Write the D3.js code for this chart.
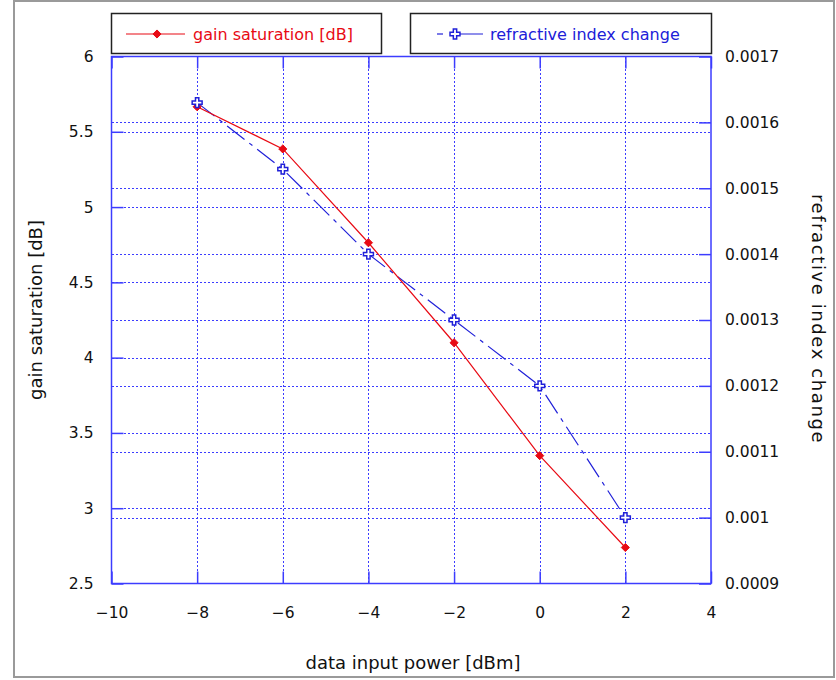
<!DOCTYPE html>
<html>
<head>
<meta charset="utf-8">
<script src="https://cdn.jsdelivr.net/npm/d3@7"></script>
<style>
  html, body { margin: 0; padding: 0; background: #fff; }
  svg { display: block; }
  text { font-family: "DejaVu Sans", "Liberation Sans", sans-serif; }
</style>
</head>
<body>
<svg id="chart" width="836" height="680"></svg>
<script>
// Data input power [dBm]
const inputPower = [-8, -6, -4, -2, 0, 2];
// Gain saturation [dB] (left axis)
const gainSaturation = [5.666, 5.386, 4.763, 4.099, 3.349, 2.739];
// Refractive index change (right axis)
const indexChange = [0.001630, 0.001529, 0.001400, 0.001300, 0.001200, 0.001000];

const xTicks = [-10, -8, -6, -4, -2, 0, 2, 4];
const leftTicks = [2.5, 3, 3.5, 4, 4.5, 5, 5.5, 6];
const rightTicks = [0.0009, 0.001, 0.0011, 0.0012, 0.0013, 0.0014, 0.0015, 0.0016, 0.0017];

const svg = d3.select("#chart");
const frameBlue = "#3c3cff";
const red = "#e80a14";
const blue = "#2020d8";
const tickFont = "'Liberation Sans', Arial, sans-serif";

const plot = { left: 111.5, right: 711, top: 56.5, bottom: 583.5 };

const x = d3.scaleLinear().domain([-10, 4]).range([plot.left, plot.right]);
const yL = d3.scaleLinear().domain([2.5, 6]).range([plot.bottom, plot.top]);
const yR = d3.scaleLinear().domain([0.0009, 0.0017]).range([plot.bottom, plot.top]);

// Outer frame of the figure
svg.append("rect")
  .attr("x", 14).attr("y", 1).attr("width", 820).attr("height", 676)
  .attr("fill", "none").attr("stroke", "#9a9a9a").attr("stroke-width", 2);

// Dotted grid lines
const grid = svg.append("g").attr("stroke", frameBlue).attr("stroke-width", 1)
  .attr("stroke-dasharray", "2,2").attr("shape-rendering", "crispEdges");
xTicks.slice(1, -1).forEach(t => {
  grid.append("line").attr("x1", Math.round(x(t)) + 0.5).attr("x2", Math.round(x(t)) + 0.5)
    .attr("y1", plot.top).attr("y2", plot.bottom);
});
leftTicks.slice(1, -1).forEach(t => {
  grid.append("line").attr("x1", plot.left).attr("x2", plot.right)
    .attr("y1", Math.round(yL(t)) + 0.5).attr("y2", Math.round(yL(t)) + 0.5);
});
rightTicks.slice(1, -1).forEach(t => {
  grid.append("line").attr("x1", plot.left).attr("x2", plot.right)
    .attr("y1", Math.round(yR(t)) + 0.5).attr("y2", Math.round(yR(t)) + 0.5);
});

// Axes with inward ticks
const fmtR = d => d3.format(".4~f")(d);
const axisStyle = g => {
  g.select(".domain").remove();
  g.selectAll(".tick line").attr("stroke", frameBlue).attr("stroke-width", 1.5);
  g.selectAll(".tick text").attr("fill", "#111").attr("font-size", 15.5)
    .attr("font-family", tickFont);
};
svg.append("g").attr("transform", `translate(0,${plot.bottom})`)
  .call(d3.axisBottom(x).tickValues(xTicks).tickSizeInner(-12).tickSizeOuter(0).tickPadding(23)
    .tickFormat(d => d < 0 ? "\u2212" + Math.abs(d) : d))
  .call(axisStyle);
svg.append("g").attr("transform", `translate(0,${plot.top})`)
  .call(d3.axisTop(x).tickValues(xTicks).tickSizeInner(-12).tickSizeOuter(0).tickFormat(""))
  .call(axisStyle);
svg.append("g").attr("transform", `translate(${plot.left},0)`)
  .call(d3.axisLeft(yL).tickValues(leftTicks).tickSizeInner(-12).tickSizeOuter(0).tickPadding(18)
    .tickFormat(d3.format("~g")))
  .call(axisStyle);
svg.append("g").attr("transform", `translate(${plot.right},0)`)
  .call(d3.axisRight(yR).tickValues(rightTicks).tickSizeInner(-12).tickSizeOuter(0).tickPadding(14)
    .tickFormat(fmtR))
  .call(axisStyle);

// Plot frame
svg.append("rect")
  .attr("x", plot.left).attr("y", plot.top)
  .attr("width", plot.right - plot.left).attr("height", plot.bottom - plot.top)
  .attr("fill", "none").attr("stroke", frameBlue).attr("stroke-width", 1.5);

// Axis titles
svg.append("text").attr("x", 413).attr("y", 669).attr("text-anchor", "middle")
  .attr("font-size", 18).attr("fill", "#111").text("data input power [dBm]");
svg.append("text").attr("transform", "translate(42,310) rotate(-90)").attr("text-anchor", "middle")
  .attr("font-size", 18).attr("fill", "#111").text("gain saturation [dB]");
svg.append("text").attr("transform", "translate(812,319) rotate(90)").attr("text-anchor", "middle")
  .attr("font-size", 18).attr("letter-spacing", 1.6).attr("fill", "#111").text("refractive index change");

// Series
const lineL = d3.line().x((d, i) => x(inputPower[i])).y(d => yL(d));
const lineR = d3.line().x((d, i) => x(inputPower[i])).y(d => yR(d));
const dashPattern = "22,6,4,6";

svg.append("path").datum(indexChange).attr("d", lineR)
  .attr("fill", "none").attr("stroke", blue).attr("stroke-width", 1.2)
  .attr("stroke-dasharray", dashPattern);
svg.append("path").datum(gainSaturation).attr("d", lineL)
  .attr("fill", "none").attr("stroke", red).attr("stroke-width", 1.2);

const diamond = d3.symbol().type(d3.symbolDiamond2).size(42);
const cross = d3.symbol().type(d3.symbolCross).size(55);

svg.append("g").selectAll("path").data(gainSaturation).join("path")
  .attr("transform", (d, i) => `translate(${x(inputPower[i])},${yL(d)})`)
  .attr("d", diamond).attr("fill", red).attr("stroke", red).attr("stroke-width", 1);
svg.append("g").selectAll("path").data(indexChange).join("path")
  .attr("transform", (d, i) => `translate(${x(inputPower[i])},${yR(d)})`)
  .attr("d", cross).attr("fill", "#fff").attr("stroke", blue).attr("stroke-width", 1.5);

// Legend
const legend = svg.append("g");
legend.append("rect").attr("x", 111.5).attr("y", 13.5).attr("width", 270).attr("height", 40)
  .attr("fill", "#fff").attr("stroke", "#222").attr("stroke-width", 1.5);
legend.append("line").attr("x1", 126).attr("x2", 185).attr("y1", 34).attr("y2", 34)
  .attr("stroke", red).attr("stroke-width", 1.2);
legend.append("path").attr("transform", "translate(157,34)").attr("d", diamond)
  .attr("fill", red).attr("stroke", red);
legend.append("text").attr("x", 193).attr("y", 40).attr("font-size", 16).attr("fill", red)
  .text("gain saturation [dB]");

legend.append("rect").attr("x", 410.5).attr("y", 13.5).attr("width", 301).attr("height", 40)
  .attr("fill", "#fff").attr("stroke", "#222").attr("stroke-width", 1.5);
legend.append("line").attr("x1", 437).attr("x2", 443).attr("y1", 34).attr("y2", 34)
  .attr("stroke", blue).attr("stroke-width", 1.2);
legend.append("line").attr("x1", 450).attr("x2", 483).attr("y1", 34).attr("y2", 34)
  .attr("stroke", blue).attr("stroke-width", 1.2);
legend.append("path").attr("transform", "translate(455,34)").attr("d", cross)
  .attr("fill", "#fff").attr("stroke", blue).attr("stroke-width", 1.5);
legend.append("text").attr("x", 490).attr("y", 40).attr("font-size", 16).attr("fill", blue)
  .text("refractive index change");
</script>
</body>
</html>
